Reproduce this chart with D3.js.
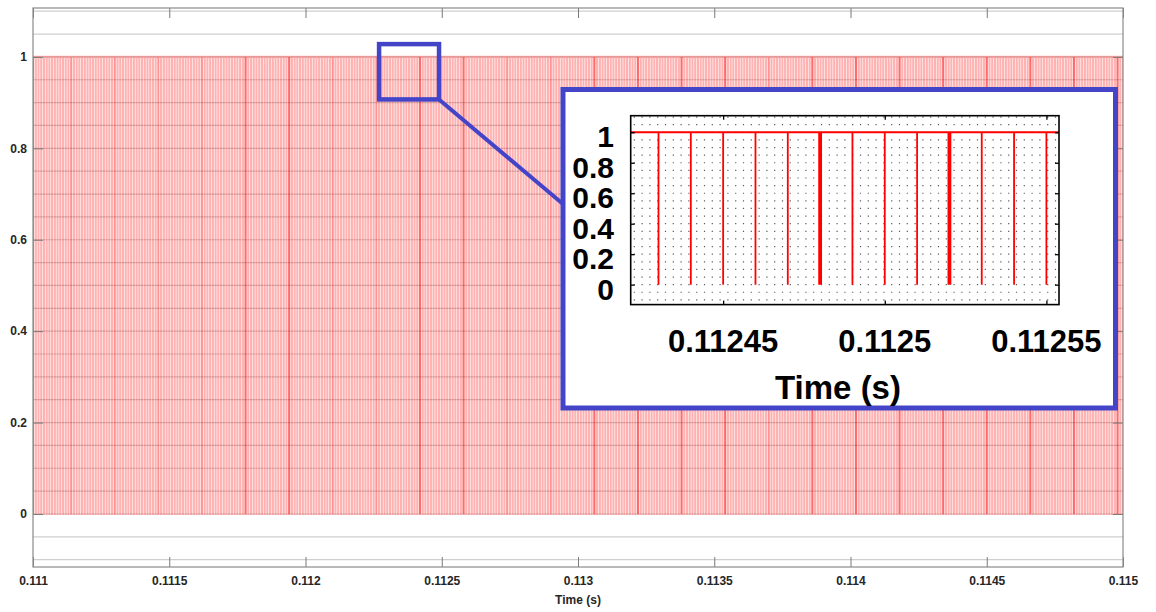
<!DOCTYPE html>
<html>
<head>
<meta charset="utf-8">
<script src="https://cdn.jsdelivr.net/npm/d3@7"></script>
<style>
  body { margin: 0; background: #fff; }
  svg { display: block; }
  text { font-family: "Liberation Sans", Arial, Helvetica, sans-serif; }
</style>
</head>
<body>
<svg id="chart" width="1156" height="612"></svg>
<script>
// ---- Gate signal: switching notches (µs) of the PWM pulse train, 0.111 s – 0.115 s ----
const notchTimesUs = [
  111000,111010,111020,111030,111040,111050,111060,111070,111080,111090,111100,111110,111120,111130,111140,111150,111160,111170,111180,111190,
  111200,111210,111220,111230,111240,111250,111260,111270,111280,111290,111300,111310,111320,111330,111340,111350,111360,111370,111380,111390,
  111400,111410,111420,111430,111440,111450,111460,111470,111480,111490,111500,111510,111520,111530,111540,111550,111560,111570,111580,111590,
  111600,111610,111620,111630,111640,111650,111660,111670,111680,111690,111700,111710,111720,111730,111740,111750,111760,111770,111780,111790,
  111800,111810,111820,111830,111840,111850,111860,111870,111880,111890,111900,111910,111920,111930,111940,111950,111960,111970,111980,111990,
  112000,112010,112020,112030,112040,112050,112060,112070,112080,112090,112100,112110,112120,112130,112140,112150,112160,112170,112180,112190,
  112200,112210,112220,112230,112240,112250,112260,112270,112280,112290,112300,112310,112320,112330,112340,112350,112360,112370,112380,112390,
  112400,112410,112420,112430,112440,112450,112460,112470,112480,112490,112500,112510,112520,112530,112540,112550,112560,112570,112580,112590,
  112600,112610,112620,112630,112640,112650,112660,112670,112680,112690,112700,112710,112720,112730,112740,112750,112760,112770,112780,112790,
  112800,112810,112820,112830,112840,112850,112860,112870,112880,112890,112900,112910,112920,112930,112940,112950,112960,112970,112980,112990,
  113000,113010,113020,113030,113040,113050,113060,113070,113080,113090,113100,113110,113120,113130,113140,113150,113160,113170,113180,113190,
  113200,113210,113220,113230,113240,113250,113260,113270,113280,113290,113300,113310,113320,113330,113340,113350,113360,113370,113380,113390,
  113400,113410,113420,113430,113440,113450,113460,113470,113480,113490,113500,113510,113520,113530,113540,113550,113560,113570,113580,113590,
  113600,113610,113620,113630,113640,113650,113660,113670,113680,113690,113700,113710,113720,113730,113740,113750,113760,113770,113780,113790,
  113800,113810,113820,113830,113840,113850,113860,113870,113880,113890,113900,113910,113920,113930,113940,113950,113960,113970,113980,113990,
  114000,114010,114020,114030,114040,114050,114060,114070,114080,114090,114100,114110,114120,114130,114140,114150,114160,114170,114180,114190,
  114200,114210,114220,114230,114240,114250,114260,114270,114280,114290,114300,114310,114320,114330,114340,114350,114360,114370,114380,114390,
  114400,114410,114420,114430,114440,114450,114460,114470,114480,114490,114500,114510,114520,114530,114540,114550,114560,114570,114580,114590,
  114600,114610,114620,114630,114640,114650,114660,114670,114680,114690,114700,114710,114720,114730,114740,114750,114760,114770,114780,114790,
  114800,114810,114820,114830,114840,114850,114860,114870,114880,114890,114900,114910,114920,114930,114940,114950,114960,114970,114980,114990,
  115000
];
// notches that show as darker stripes in the overview
const heavyNotchUs  = [111000, 111780, 111940, 112420, 112580, 113060, 113220, 113380, 113540,
                       113860, 114020, 114180, 114340, 114500, 114660, 114820, 114980];
const mediumNotchUs = [111140, 111300, 111460, 111620, 112100, 112260, 112740, 112900, 113700];

const xTicks      = [0.111, 0.1115, 0.112, 0.1125, 0.113, 0.1135, 0.114, 0.1145, 0.115];
const xTickLabels = ["0.111", "0.1115", "0.112", "0.1125", "0.113", "0.1135", "0.114", "0.1145", "0.115"];
const yTicks      = [0, 0.2, 0.4, 0.6, 0.8, 1];
const yTickLabels = ["0", "0.2", "0.4", "0.6", "0.8", "1"];

// ---- Detail view of the pulse train ----
const detailNotchUs     = [112430, 112440, 112450, 112460, 112470, 112480, 112490,
                           112500, 112510, 112520, 112530, 112540, 112550];
const detailWideNotchUs = [112480, 112520];
const detailXTicks      = [0.11245, 0.1125, 0.11255];
const detailXTickLabels = ["0.11245", "0.1125", "0.11255"];
const detailYTicks      = [0, 0.2, 0.4, 0.6, 0.8, 1];
const detailYTickLabels = ["0", "0.2", "0.4", "0.6", "0.8", "1"];

// region of the overview that the detail view magnifies: [t0, t1, v0, v1]
const zoomWindow = [0.11227, 0.11249, 0.907, 1.028];

// ---------------------------------------------------------------------------
const svg = d3.select("#chart");
const BLUE = "#4444c8";
const us = v => v * 1e-6;

// ---- overview axes ----
const box = { left: 33, right: 1123, top: 8, bottom: 567 };
const x = d3.scaleLinear().domain([0.111, 0.115]).range([box.left, box.right]);
const y = d3.scaleLinear().domain([-0.116, 1.107]).range([box.bottom, box.top]);

svg.append("defs").append("clipPath").attr("id", "plotClip")
  .append("rect")
  .attr("x", box.left).attr("y", box.top)
  .attr("width", box.right - box.left).attr("height", box.bottom - box.top);

// horizontal grid
svg.append("g")
  .selectAll("line")
  .data(d3.range(-0.1, 1.1001, 0.05))
  .join("line")
  .attr("x1", box.left).attr("x2", box.right)
  .attr("y1", d => y(d)).attr("y2", d => y(d))
  .attr("stroke", "#cfcfcf").attr("stroke-width", 1.2);

// gate signal as a single trace: high at 1 with short drops to 0 at each notch
const notchWidth = 0.25e-6;
const tracePts = [];
notchTimesUs.forEach(n => {
  const t = us(n);
  tracePts.push([t, 1], [t, 0], [t + notchWidth, 0], [t + notchWidth, 1]);
});
const line = d3.line().x(d => x(d[0])).y(d => y(d[1]));

const plot = svg.append("g").attr("clip-path", "url(#plotClip)");
plot.append("path")
  .datum(tracePts)
  .attr("d", line)
  .attr("fill", "none")
  .attr("stroke", "#ff0000")
  .attr("stroke-width", 2.1)
  .attr("stroke-opacity", 0.3);

plot.selectAll("line.medium")
  .data(mediumNotchUs)
  .join("line").attr("class", "medium")
  .attr("x1", d => x(us(d))).attr("x2", d => x(us(d)))
  .attr("y1", y(1)).attr("y2", y(0))
  .attr("stroke", "#ff0000").attr("stroke-width", 1.6).attr("stroke-opacity", 0.18);

plot.selectAll("line.heavy")
  .data(heavyNotchUs)
  .join("line").attr("class", "heavy")
  .attr("x1", d => x(us(d))).attr("x2", d => x(us(d)))
  .attr("y1", y(1)).attr("y2", y(0))
  .attr("stroke", "#ff0000").attr("stroke-width", 2).attr("stroke-opacity", 0.4);

// axes box and ticks
const axisColor = "#8a8a8a";
function styleAxis(g) {
  g.select(".domain").remove();
  g.selectAll(".tick line").attr("stroke", "#7a7a7a");
  g.selectAll(".tick text")
    .attr("fill", "#262626")
    .attr("font-size", 12)
    .attr("font-weight", "bold");
}
svg.append("g")
  .attr("transform", `translate(0,${box.bottom})`)
  .call(d3.axisBottom(x).tickValues(xTicks)
    .tickFormat((d, i) => xTickLabels[i]).tickSizeInner(-10).tickSizeOuter(0).tickPadding(9))
  .call(styleAxis);
svg.append("g")
  .attr("transform", `translate(0,${box.top})`)
  .call(d3.axisTop(x).tickValues(xTicks).tickFormat("").tickSizeInner(-10).tickSizeOuter(0))
  .call(styleAxis);
svg.append("g")
  .attr("transform", `translate(${box.left},0)`)
  .call(d3.axisLeft(y).tickValues(yTicks)
    .tickFormat((d, i) => yTickLabels[i]).tickSizeInner(-10).tickSizeOuter(0).tickPadding(6))
  .call(styleAxis);
svg.append("g")
  .attr("transform", `translate(${box.right},0)`)
  .call(d3.axisRight(y).tickValues(yTicks).tickFormat("").tickSizeInner(-10).tickSizeOuter(0))
  .call(styleAxis);

svg.append("rect")
  .attr("x", box.left).attr("y", box.top)
  .attr("width", box.right - box.left).attr("height", box.bottom - box.top)
  .attr("fill", "none").attr("stroke", axisColor).attr("stroke-width", 1.2);

svg.append("text")
  .attr("x", (box.left + box.right) / 2).attr("y", 604)
  .attr("text-anchor", "middle")
  .attr("font-size", 12).attr("font-weight", "bold").attr("fill", "#262626")
  .text("Time (s)");

// ---- magnified region marker and connector ----
const zx0 = x(zoomWindow[0]), zx1 = x(zoomWindow[1]);
const zy0 = y(zoomWindow[3]), zy1 = y(zoomWindow[2]);
const inset = { left: 563, right: 1115.5, top: 89.5, bottom: 408 };

svg.append("line")
  .attr("x1", zx1).attr("y1", zy1)
  .attr("x2", inset.left).attr("y2", 204)
  .attr("stroke", BLUE).attr("stroke-width", 4);
svg.append("rect")
  .attr("x", zx0).attr("y", zy0)
  .attr("width", zx1 - zx0).attr("height", zy1 - zy0)
  .attr("fill", "none").attr("stroke", BLUE).attr("stroke-width", 4.5);

// ---- detail panel ----
svg.append("rect")
  .attr("x", inset.left).attr("y", inset.top)
  .attr("width", inset.right - inset.left).attr("height", inset.bottom - inset.top)
  .attr("fill", "#ffffff").attr("stroke", BLUE).attr("stroke-width", 5);

const dbox = { left: 630.7, right: 1059, top: 115.7, bottom: 304.6 };
const xi = d3.scaleLinear().domain([0.1124214, 0.1125539]).range([dbox.left, dbox.right]);
const yi = d3.scaleLinear().domain([-0.131, 1.109]).range([dbox.bottom, dbox.top]);

svg.select("defs").append("clipPath").attr("id", "detailClip")
  .append("rect")
  .attr("x", dbox.left).attr("y", dbox.top)
  .attr("width", dbox.right - dbox.left).attr("height", dbox.bottom - dbox.top);

const detail = svg.append("g").attr("clip-path", "url(#detailClip)");

// dotted grid
detail.append("g")
  .selectAll("line")
  .data(d3.range(-0.1, 1.1001, 0.05))
  .join("line")
  .attr("x1", dbox.left + 3).attr("x2", dbox.right)
  .attr("y1", d => yi(d)).attr("y2", d => yi(d))
  .attr("stroke", "#5a5a5a").attr("stroke-width", 1.2)
  .attr("stroke-dasharray", "1.2,6.6");

// signal high level
detail.append("line")
  .attr("x1", dbox.left).attr("x2", dbox.right)
  .attr("y1", yi(1)).attr("y2", yi(1))
  .attr("stroke", "#ff0000").attr("stroke-width", 2);

// notches
detail.selectAll("line.notch")
  .data(detailNotchUs)
  .join("line").attr("class", "notch")
  .attr("x1", d => xi(us(d))).attr("x2", d => xi(us(d)))
  .attr("y1", yi(1)).attr("y2", yi(0))
  .attr("stroke", "#ff0000")
  .attr("stroke-width", d => detailWideNotchUs.includes(d) ? 3.8 : 1.8);

// detail axes
function styleDetail(g) {
  g.select(".domain").remove();
  g.selectAll(".tick line").attr("stroke", "#000").attr("stroke-width", 1.3);
}
svg.append("g")
  .attr("transform", `translate(0,${dbox.bottom})`)
  .call(d3.axisBottom(xi).tickValues(detailXTicks).tickFormat("").tickSizeInner(-4).tickSizeOuter(0))
  .call(styleDetail);
svg.append("g")
  .attr("transform", `translate(0,${dbox.top})`)
  .call(d3.axisTop(xi).tickValues(detailXTicks).tickFormat("").tickSizeInner(-4).tickSizeOuter(0))
  .call(styleDetail);
svg.append("g")
  .attr("transform", `translate(${dbox.left},0)`)
  .call(d3.axisLeft(yi).tickValues(detailYTicks).tickFormat("").tickSizeInner(-4).tickSizeOuter(0))
  .call(styleDetail);
svg.append("g")
  .attr("transform", `translate(${dbox.right},0)`)
  .call(d3.axisRight(yi).tickValues(detailYTicks).tickFormat("").tickSizeInner(-4).tickSizeOuter(0))
  .call(styleDetail);

svg.append("rect")
  .attr("x", dbox.left).attr("y", dbox.top)
  .attr("width", dbox.right - dbox.left).attr("height", dbox.bottom - dbox.top)
  .attr("fill", "none").attr("stroke", "#000").attr("stroke-width", 1.6);

// detail tick labels
svg.append("g")
  .selectAll("text")
  .data(detailYTicks)
  .join("text")
  .attr("x", 614)
  .attr("y", d => yi(d) + 15)
  .attr("text-anchor", "end")
  .attr("font-size", 30).attr("font-weight", "bold").attr("fill", "#000")
  .text((d, i) => detailYTickLabels[i]);

svg.append("g")
  .selectAll("text")
  .data(detailXTicks)
  .join("text")
  .attr("x", d => xi(d))
  .attr("y", 352)
  .attr("text-anchor", "middle")
  .attr("font-size", 31).attr("font-weight", "bold").attr("fill", "#000")
  .text((d, i) => detailXTickLabels[i]);

svg.append("text")
  .attr("x", 838).attr("y", 399)
  .attr("text-anchor", "middle")
  .attr("font-size", 33).attr("font-weight", "bold").attr("fill", "#000")
  .text("Time (s)");
</script>
</body>
</html>
